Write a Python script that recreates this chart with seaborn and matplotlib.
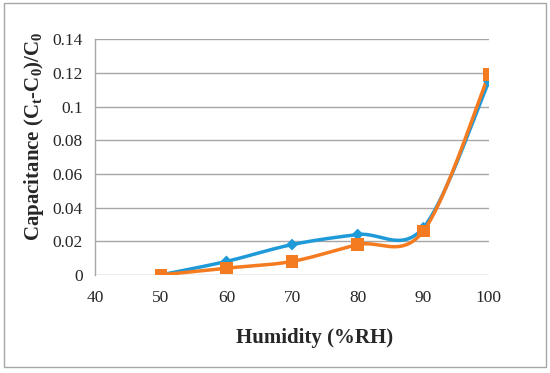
import numpy as np
import pandas as pd
import seaborn as sns
import matplotlib.pyplot as plt
from matplotlib.patches import Rectangle

# data
humidity = [50, 60, 70, 80, 90, 100]
sensor_a = [0.0, 0.008, 0.018, 0.024, 0.028, 0.115]
sensor_b = [0.0, 0.004, 0.008, 0.018, 0.026, 0.119]

x_ticks = [40, 50, 60, 70, 80, 90, 100]
y_ticks = [0, 0.02, 0.04, 0.06, 0.08, 0.1, 0.12, 0.14]
y_tick_labels = ["0", "0.02", "0.04", "0.06", "0.08", "0.1", "0.12", "0.14"]

BLUE = "#1f9ad8"
ORANGE = "#f47b20"

sns.set_theme(style="white")
plt.rcParams["font.family"] = ["Liberation Serif", "DejaVu Serif"]
plt.rcParams["mathtext.fontset"] = "custom"
plt.rcParams["mathtext.rm"] = "Liberation Serif:bold"
plt.rcParams["mathtext.it"] = "Liberation Serif:bold"
plt.rcParams["mathtext.bf"] = "Liberation Serif:bold"


def smooth(xs, ys, n=40):
    """Catmull-Rom style smoothing, like Excel's smoothed line."""
    p = np.column_stack([xs, ys]).astype(float)
    p = np.vstack([p[0], p, p[-1]])
    out = []
    t = np.linspace(0, 1, n)[:, None]
    for i in range(1, len(p) - 2):
        p0, p1, p2, p3 = p[i - 1], p[i], p[i + 1], p[i + 2]
        seg = 0.5 * ((2 * p1) + (-p0 + p2) * t + (2 * p0 - 5 * p1 + 4 * p2 - p3) * t ** 2
                     + (-p0 + 3 * p1 - 3 * p2 + p3) * t ** 3)
        out.append(seg if i == len(p) - 3 else seg[:-1])
    out = np.vstack(out)
    return out[:, 0], out[:, 1]


fig, ax = plt.subplots(figsize=(5.5, 3.73), dpi=100)
fig.subplots_adjust(left=0.173, right=0.889, bottom=0.263, top=0.895)

for ys, color, marker, ms in [(sensor_a, BLUE, "D", 6), (sensor_b, ORANGE, "s", 9)]:
    sx, sy = smooth(humidity, ys)
    sns.lineplot(x=sx, y=sy, ax=ax, color=color, linewidth=2.5, sort=False)
    sns.scatterplot(x=humidity, y=ys, ax=ax, color=color, marker=marker, s=ms ** 2,
                    edgecolor="none", zorder=5)

ax.set_xlim(40, 100)
ax.set_ylim(0, 0.14)
ax.set_xticks(x_ticks)
ax.set_yticks(y_ticks)
ax.set_yticklabels(y_tick_labels)
ax.tick_params(labelsize=12.5, length=0)
ax.tick_params(axis="x", pad=11)
ax.tick_params(axis="y", pad=9)
ax.yaxis.grid(True, color="#a6a6a6", linewidth=1)
ax.set_axisbelow(True)
for side in ["top", "right", "bottom"]:
    ax.spines[side].set_visible(False)
ax.spines["left"].set_color("#a6a6a6")
ax.spines["left"].set_linewidth(1)

ax.set_xlabel("Humidity (%RH)", fontsize=15, fontweight="bold")
ax.set_ylabel(r"Capacitance (C$_\mathrm{t}$-C$_\mathrm{0}$)/C$_\mathrm{0}$",
              fontsize=15, fontweight="bold")
ax.xaxis.set_label_coords(0.558, -0.225)
ax.yaxis.set_label_coords(-0.125, 0.59)

fig.patches.append(Rectangle((4 / 550, 1 - 367 / 373), 542 / 550, 364 / 373,
                             transform=fig.transFigure, fill=False,
                             edgecolor="#a6a6a6", linewidth=1))

fig.savefig("out.png", dpi=100)
